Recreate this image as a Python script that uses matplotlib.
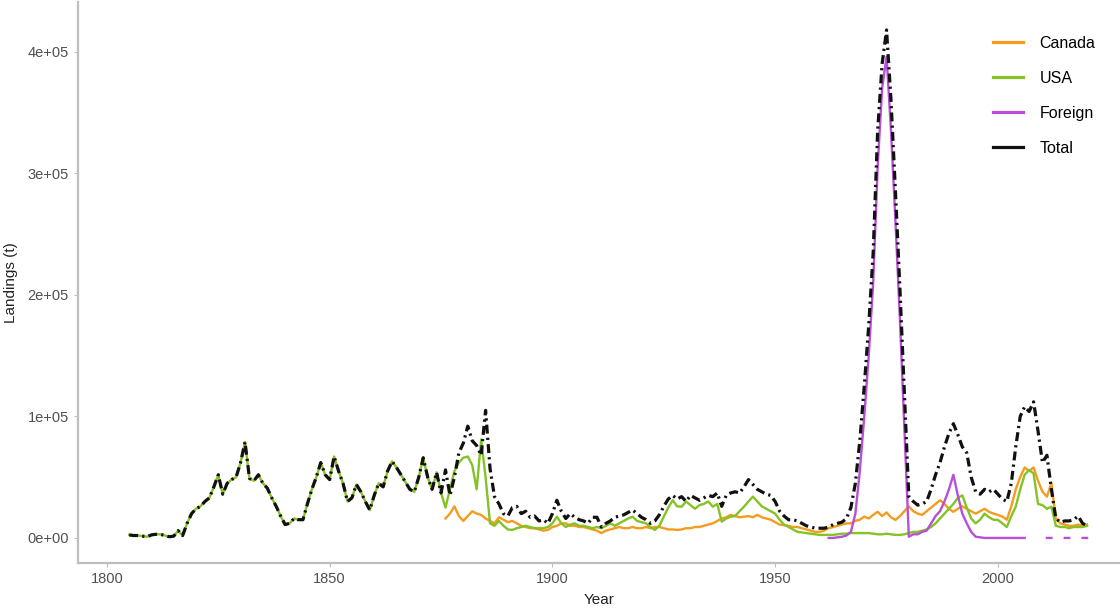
import numpy as np
import matplotlib
matplotlib.use("Agg")
import matplotlib.pyplot as plt

plt.rcParams['font.family'] = ['Liberation Sans', 'DejaVu Sans']

nan = np.nan

# ---- data (tonnes) ----
years = np.arange(1805, 2021)

total = [
    # 1805-1834
    2500, 2000, 2000, 1500, 1000, 2500, 3000, 3000, 2000, 1000,
    1500, 6000, 2000, 12000, 20000, 24000, 26000, 30000, 33000, 42000,
    52000, 36000, 45000, 48000, 50000, 62000, 79000, 49000, 47000, 52000,
    # 1835-1864
    45000, 41000, 33000, 26000, 18000, 11000, 12000, 16000, 15000, 15000,
    28000, 40000, 50000, 62000, 52000, 48000, 67000, 55000, 45000, 30000,
    33000, 44000, 38000, 30000, 23000, 35000, 45000, 42000, 55000, 63000,
    # 1865-1894
    58000, 52000, 46000, 40000, 38000, 50000, 66000, 50000, 40000, 54000,
    37000, 56000, 35000, 50000, 70000, 78000, 92000, 80000, 76000, 68000,
    105000, 57000, 34000, 28000, 20000, 18000, 25000, 26000, 20000, 22000,
    # 1895-1924
    17000, 18000, 14000, 15000, 12000, 20000, 31000, 22000, 16000, 20000,
    17000, 15000, 14000, 12000, 17000, 17000, 9000, 12000, 14000, 17000,
    18000, 19000, 21000, 23000, 20000, 17000, 15000, 12000, 14000, 19000,
    # 1925-1954
    26000, 32000, 35000, 32000, 34000, 30000, 35000, 33000, 31000, 33000,
    35000, 34000, 37000, 26000, 35000, 37000, 38000, 37000, 42000, 48000,
    44000, 40000, 38000, 36000, 35000, 30000, 22000, 18000, 15000, 15000,
    # 1955-1984
    14000, 12000, 10000, 9000, 8000, 8000, 8000, 9000, 11000, 12000,
    13000, 16000, 25000, 45000, 80000, 125000, 175000, 235000, 335000, 390000,
    418000, 360000, 285000, 205000, 120000, 34000, 30000, 27000, 28000, 30000,
    # 1985-2014
    40000, 52000, 62000, 75000, 86000, 94000, 85000, 75000, 70000, 50000,
    38000, 36000, 40000, 38000, 40000, 36000, 32000, 30000, 45000, 75000,
    100000, 108000, 104000, 112000, 88000, 62000, 68000, 40000, 16000, 13000,
    # 2015-2020
    14000, 14000, 15000, 18000, 12000, 10000,
]

canada = [nan] * 71 + [
    # 1876-1905
    16000, 20000, 26000, 18000, 14000, 18000, 22000, 20000, 19000, 16000,
    14000, 12000, 17000, 15000, 13000, 14000, 12000, 10000, 9000, 8000,
    8000, 7000, 6000, 6600, 9000, 10000, 12000, 12000, 10000, 10000,
    # 1906-1935
    9000, 9000, 8000, 7000, 6000, 4000, 6000, 7000, 8000, 9000,
    8000, 8000, 9000, 8000, 8000, 9000, 8000, 9000, 9000, 8000,
    7000, 7000, 6600, 7000, 8000, 8000, 9000, 9000, 10000, 11000,
    # 1936-1965
    12000, 14000, 16000, 17000, 19000, 18000, 17000, 17500, 18000, 17000,
    19000, 17000, 16000, 15000, 13000, 11000, 10500, 10000, 9000, 9000,
    8000, 7000, 6000, 5000, 5000, 6000, 8000, 9000, 10000, 11000,
    # 1966-1995
    12000, 12000, 14000, 15000, 17500, 16000, 19000, 21500, 18000, 21000,
    17000, 14800, 18000, 22000, 26000, 22000, 20000, 19000, 22000, 25000,
    28000, 31000, 28000, 24000, 21500, 24000, 26000, 24000, 22000, 20000,
    # 1996-2020
    22000, 24000, 21500, 20000, 19000, 17500, 15000, 26000, 40000, 50000,
    58000, 55000, 58000, 47000, 38000, 34000, 45000, 16000, 12000, 11000,
    10000, 10000, 11000, 10000, 11000,
]

usa = total[:71] + [
    # 1876-1905
    25000, 40000, 55000, 62000, 66000, 67000, 60000, 40000, 81000, 50000,
    12000, 10000, 14000, 10000, 7000, 6600, 8000, 9000, 10000, 9000,
    8000, 8000, 8000, 9000, 12000, 17500, 12000, 9000, 11000, 12000,
    # 1906-1935
    10000, 10000, 9000, 8000, 9000, 8000, 10000, 12000, 10000, 12000,
    14000, 16000, 17500, 14000, 13000, 12000, 9000, 6600, 10000, 17500,
    25000, 31000, 26000, 25700, 30000, 27000, 24000, 27000, 28000, 30000,
    # 1936-1965
    25700, 28000, 13400, 16000, 17500, 18000, 22000, 25700, 30000, 34000,
    30000, 26000, 24000, 22000, 20000, 15000, 11000, 9000, 7000, 5000,
    4500, 4000, 3500, 3000, 2500, 2500, 2500, 2500, 3000, 3500,
    # 1966-1995
    3500, 4000, 4000, 4000, 4000, 4000, 3500, 3000, 3000, 3500,
    3000, 2500, 2500, 3000, 4000, 5000, 5000, 6000, 7000, 9000,
    12000, 16000, 20000, 24000, 28000, 33000, 35000, 25000, 16000, 12000,
    # 1996-2020
    15000, 20000, 17000, 15000, 14800, 12000, 9000, 18000, 25700, 40000,
    52000, 56000, 53000, 28000, 27000, 24000, 25700, 10000, 9000, 9000,
    8000, 9000, 9000, 9000, 10000,
]

foreign = [nan] * 157 + [
    # 1962-1991
    0, 0, 500, 1000, 2000, 5000, 20000, 55000, 100000, 150000,
    210000, 305000, 370000, 396000, 335000, 260000, 180000, 90000, 1000, 3000,
    3000, 5000, 6000, 12000, 18000, 22000, 30000, 40000, 52000, 35000,
    # 1992-2020
    20000, 12000, 5000, 1000, 500, 0, 0, 0, 0, 0,
    0, 0, 0, 0, 0, nan, nan, nan, nan, 0,
    0, nan, nan, 0, 0, nan, nan, 0, 0,
]

series_names = ["Canada", "USA", "Foreign", "Total"]
series_colors = ["#F59B1D", "#84C225", "#B94FD8", "#111111"]

x_ticks = [1800, 1850, 1900, 1950, 2000]
y_ticks = [0, 100000, 200000, 300000, 400000]
y_tick_labels = ["0e+00", "1e+05", "2e+05", "3e+05", "4e+05"]

# ---- figure ----
fig = plt.figure(figsize=(11.2, 6.12), dpi=100)
ax = fig.add_axes([0.0696, 0.0801, 0.9304, 0.9166])

ax.plot(years, canada, color=series_colors[0], lw=1.7, label=series_names[0])
ax.plot(years, usa, color=series_colors[1], lw=1.7, label=series_names[1])
ax.plot(years, foreign, color=series_colors[2], lw=1.7, label=series_names[2])
ax.plot(years, total, color=series_colors[3], lw=2.3, label=series_names[3],
        linestyle=(0, (2.8, 1.3, 0.7, 1.3)))

ax.set_xlim(1793.5, 2027.4)
ax.set_ylim(-20600, 441000)
ax.set_xticks(x_ticks)
ax.set_yticks(y_ticks)
ax.set_yticklabels(y_tick_labels)

for side in ["top", "right"]:
    ax.spines[side].set_visible(False)
for side in ["left", "bottom"]:
    ax.spines[side].set_color("#BEBEBE")
    ax.spines[side].set_linewidth(1.6)
ax.tick_params(axis="both", colors="#BEBEBE", length=3, width=0.8,
               labelcolor="#505050", labelsize=10.5)

ax.set_xlabel("Year", fontsize=11, color="#222222", labelpad=5)
ax.set_ylabel("Landings (t)", fontsize=11, color="#222222", labelpad=7)

leg_handles = [plt.Line2D([], [], color=c, lw=2.3) for c in series_colors]
ax.legend(leg_handles, series_names, loc="upper right", frameon=False,
          fontsize=11.5, handlelength=1.9, labelspacing=1.25,
          bbox_to_anchor=(0.99, 0.965), handletextpad=1.0)

fig.savefig("out.png", dpi=100)
